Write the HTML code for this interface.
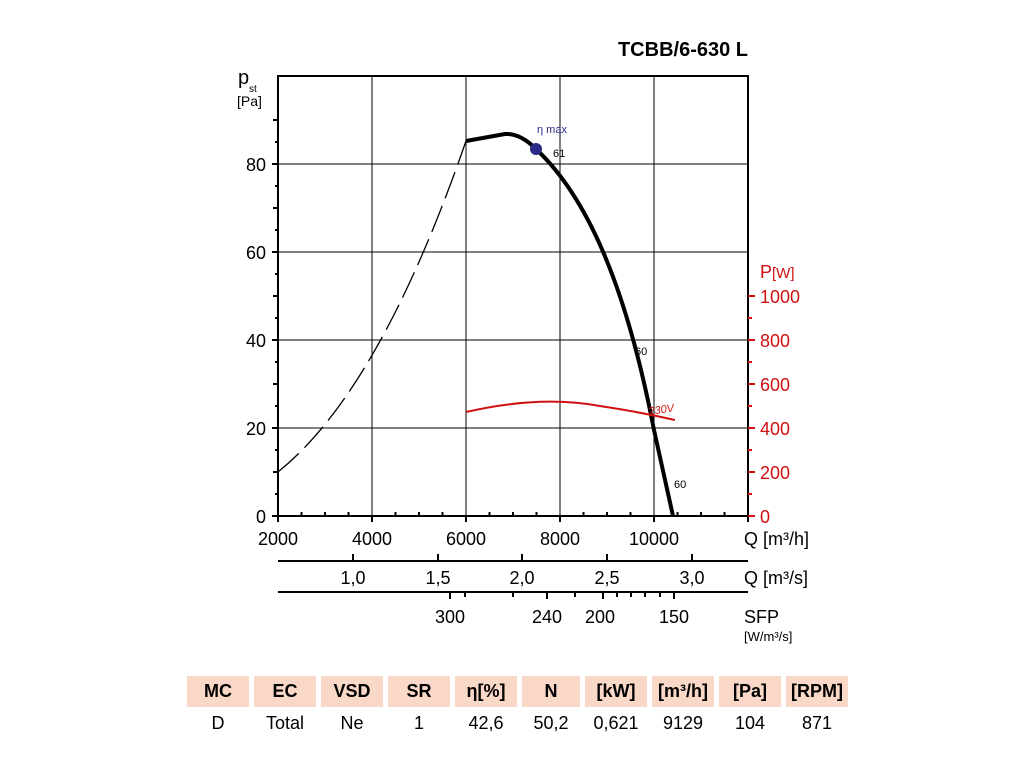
<!DOCTYPE html><html><head><style>body{margin:0;background:#fff;font-family:"Liberation Sans",sans-serif}
.t{position:absolute;top:676px;height:31px;background:#f9d8c8;font-weight:bold;font-size:18px;text-align:center;line-height:31px}
.v{position:absolute;top:711px;font-size:18px;text-align:center;line-height:24px}</style></head><body>
<svg width="1024" height="768" style="position:absolute;left:0;top:0" font-family="Liberation Sans, sans-serif">
<text x="748" y="56" text-anchor="end" font-size="20" font-weight="bold">TCBB/6-630 L</text>
<g stroke="#000" stroke-width="1">
<line x1="372" y1="76" x2="372" y2="516"/><line x1="466" y1="76" x2="466" y2="516"/><line x1="560" y1="76" x2="560" y2="516"/><line x1="654" y1="76" x2="654" y2="516"/>
<line x1="278" y1="164" x2="748" y2="164"/><line x1="278" y1="252" x2="748" y2="252"/><line x1="278" y1="340" x2="748" y2="340"/><line x1="278" y1="428" x2="748" y2="428"/>
</g>
<rect x="278" y="76" width="470" height="440" fill="none" stroke="#000" stroke-width="2"/>
<g stroke="#000" stroke-width="2">
<path d="M272 516h6M272 428h6M272 340h6M272 252h6M272 164h6M273 472h5M273 384h5M273 296h5M273 208h5M273 120h5"/>
<path d="M275 494h3M275 450h3M275 406h3M275 362h3M275 318h3M275 274h3M275 230h3M275 186h3M275 142h3"/>
<path d="M278 516v6M372 516v6M466 516v6M560 516v6M654 516v6M748 516v6"/>
<path d="M301.5 516v-4M325 516v-4M348.5 516v-4M395.5 516v-4M419 516v-4M442.5 516v-4M489.5 516v-4M513 516v-4M536.5 516v-4M583.5 516v-4M607 516v-4M630.5 516v-4M677.5 516v-4M701 516v-4M724.5 516v-4"/>
<line x1="278" y1="561" x2="748" y2="561"/><path d="M353 561v-7M438 561v-7M522 561v-7M607 561v-7M692 561v-7"/>
<line x1="278" y1="592" x2="748" y2="592"/><path d="M450 592v7M465 592v5M513 592v5M547 592v7M575 592v5M603 592v7M617 592v5M631 592v5M645 592v5M660 592v5M674 592v7"/>
</g>
<g stroke="#d01010" stroke-width="2"><path d="M748 516h7M748 472h7M748 428h7M748 384h7M748 340h7M748 296h7M748 494h4M748 450h4M748 406h4M748 362h4M748 318h4"/></g>
<g font-size="18" text-anchor="end"><text x="266" y="523">0</text><text x="266" y="435">20</text><text x="266" y="347">40</text><text x="266" y="259">60</text><text x="266" y="171">80</text></g>
<text x="238" y="84" font-size="20">p</text><text x="249" y="92" font-size="10">st</text><text x="237" y="106" font-size="14">[Pa]</text>
<g font-size="18" fill="#d01010"><text x="760" y="523">0</text><text x="760" y="479">200</text><text x="760" y="435">400</text><text x="760" y="391">600</text><text x="760" y="347">800</text><text x="760" y="303">1000</text><text x="760" y="278">P<tspan font-size="15">[W]</tspan></text></g>
<g font-size="18" text-anchor="middle"><text x="278" y="545">2000</text><text x="372" y="545">4000</text><text x="466" y="545">6000</text><text x="560" y="545">8000</text><text x="654" y="545">10000</text>
<text x="353" y="584">1,0</text><text x="438" y="584">1,5</text><text x="522" y="584">2,0</text><text x="607" y="584">2,5</text><text x="692" y="584">3,0</text>
<text x="450" y="623">300</text><text x="547" y="623">240</text><text x="600" y="623">200</text><text x="674" y="623">150</text></g>
<g font-size="18"><text x="744" y="545">Q [m³/h]</text><text x="744" y="584">Q [m³/s]</text><text x="744" y="623">SFP</text></g>
<text x="744" y="641" font-size="13">[W/m³/s]</text>
<path d="M278 472 Q 380 390 466 141" fill="none" stroke="#000" stroke-width="1.3" stroke-dasharray="28,8"/>
<path d="M466 141 L505 134 Q520 133 536 149 C585 195 625 280 654 430 L673 516" fill="none" stroke="#000" stroke-width="4"/>
<path d="M466 412 Q540 395 600 406 Q640 412 675 420" fill="none" stroke="#d01010" stroke-width="2"/>
<circle cx="536" cy="149" r="6" fill="#2b2a85"/>
<text x="537" y="133" font-size="11" fill="#2b2a85">η max</text>
<text x="553" y="157" font-size="11">61</text>
<text x="635" y="355" font-size="11">60</text>
<text x="674" y="488" font-size="11">60</text>
<text x="649" y="415" font-size="11" fill="#d01010" font-style="italic" transform="rotate(-8 649 415)">230V</text>
</svg>
<div class="t" style="left:187px;width:62px">MC</div><div class="t" style="left:254px;width:62px">EC</div><div class="t" style="left:321px;width:62px">VSD</div><div class="t" style="left:388px;width:62px">SR</div><div class="t" style="left:455px;width:62px">η[%]</div><div class="t" style="left:522px;width:58px">N</div><div class="t" style="left:585px;width:62px">[kW]</div><div class="t" style="left:652px;width:62px">[m³/h]</div><div class="t" style="left:719px;width:62px">[Pa]</div><div class="t" style="left:786px;width:62px">[RPM]</div>
<div class="v" style="left:187px;width:62px">D</div><div class="v" style="left:254px;width:62px">Total</div><div class="v" style="left:321px;width:62px">Ne</div><div class="v" style="left:388px;width:62px">1</div><div class="v" style="left:455px;width:62px">42,6</div><div class="v" style="left:522px;width:58px">50,2</div><div class="v" style="left:585px;width:62px">0,621</div><div class="v" style="left:652px;width:62px">9129</div><div class="v" style="left:719px;width:62px">104</div><div class="v" style="left:786px;width:62px">871</div>
</body></html>
